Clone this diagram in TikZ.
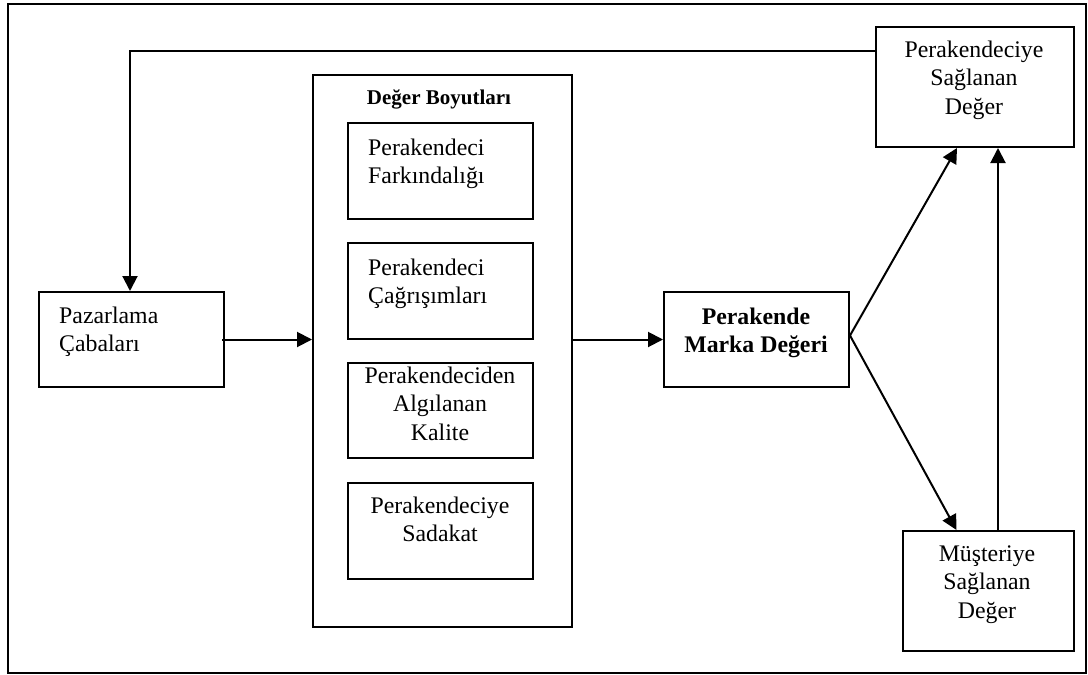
\documentclass[tikz,border=0pt]{standalone}
\usepackage{fontspec}
\setmainfont{Liberation Serif}
\usetikzlibrary{arrows.meta}
\begin{document}
\begin{tikzpicture}[x=1pt,y=-1pt,
  box/.style={draw, line width=2pt, inner sep=0pt, anchor=north west},
  txt/.style={font=\fontsize{23.8}{28.5}\selectfont, inner sep=0pt},
  btxt/.style={font=\bfseries\fontsize{23.8}{28.5}\selectfont, inner sep=0pt},
  arr/.style={line width=2pt, -{Triangle[length=15pt,width=15pt]}}
]
\useasboundingbox (0,0) rectangle (1088,675);

% outer frame
\node[box, minimum width=1078pt, minimum height=669pt] (frame) at (7,3) {};

% boxes
\node[box, minimum width=185pt, minimum height=95pt] (paz) at (38,291) {};
\node[box, minimum width=259pt, minimum height=552pt] (dim) at (312,74) {};
\node[box, minimum width=185pt, minimum height=96pt] (b1) at (347,122) {};
\node[box, minimum width=185pt, minimum height=96pt] (b2) at (347,242) {};
\node[box, minimum width=185pt, minimum height=95pt] (b3) at (347,362) {};
\node[box, minimum width=185pt, minimum height=96pt] (b4) at (347,482) {};
\node[box, minimum width=185pt, minimum height=95pt] (pmd) at (663,291) {};
\node[box, minimum width=198pt, minimum height=120pt] (psd) at (875,26) {};
\node[box, minimum width=171pt, minimum height=120pt] (msd) at (902,530) {};

% texts (base anchor = baseline of the last line)
\node[txt, align=left, anchor=base west] (pazT) at (59,351.5) {Pazarlama\\Çabaları};
\node[inner sep=0pt, font=\bfseries\fontsize{21}{25}\selectfont, anchor=base] (dimT) at (439,104) {Değer Boyutları};
\node[txt, align=left, anchor=base west] (b1T) at (368,183.5) {Perakendeci\\Farkındalığı};
\node[txt, align=left, anchor=base west] (b2T) at (368,303.5) {Perakendeci\\Çağrışımları};
\node[txt, align=center, anchor=base] (b3T) at (440,440) {Perakendeciden\\Algılanan\\Kalite};
\node[txt, align=center, anchor=base] (b4T) at (440,541.5) {Perakendeciye\\Sadakat};
\node[btxt, align=center, anchor=base] (pmdT) at (756,352.5) {Perakende\\Marka Değeri};
\node[txt, align=center, anchor=base] (psdT) at (974,114) {Perakendeciye\\Sağlanan\\Değer};
\node[txt, align=center, anchor=base] (msdT) at (987,618) {Müşteriye\\Sağlanan\\Değer};

% connectors
\draw[arr] ([yshift=-25pt]psd.north west) -| ([xshift=-1.5pt]paz.north);
\draw[arr] ([xshift=-3pt]paz.east) -- (paz.east -| dim.west);
\draw[arr] (dim.east |- pmd.west) -- (pmd.west);
\coordinate (fork) at ([yshift=4pt]pmd.east);
\draw[arr] (fork) -- ([xshift=-18pt]psd.south);
\draw[arr] (fork) -- ([xshift=-32pt]msd.north);
\draw[arr] ([xshift=9.5pt]msd.north) -- ([xshift=9.5pt]msd.north |- psd.south);
\end{tikzpicture}
\end{document}
